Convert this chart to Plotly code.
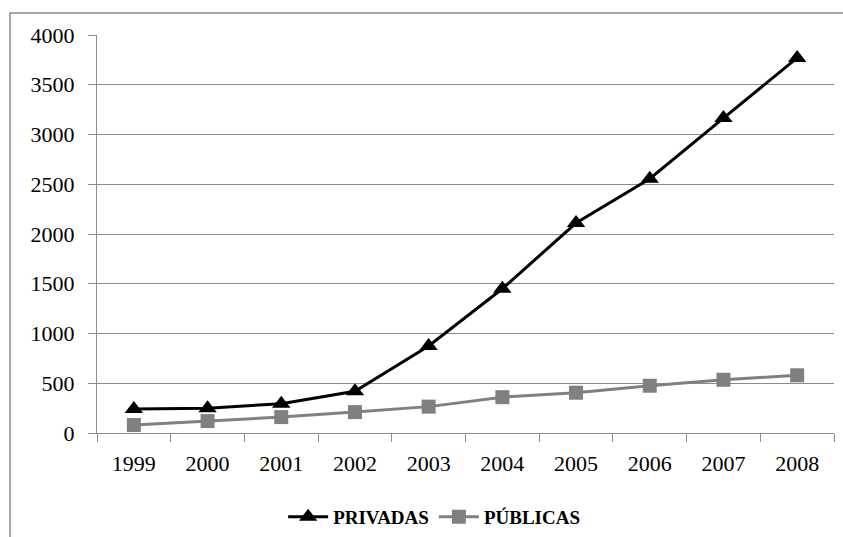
import plotly.graph_objects as go

years = ["1999", "2000", "2001", "2002", "2003", "2004", "2005", "2006", "2007", "2008"]
privadas = [240, 250, 295, 420, 875, 1450, 2110, 2555, 3165, 3770]
publicas = [80, 120, 160, 210, 265, 360, 405, 475, 535, 580]

serif = "Liberation Serif, Times New Roman, serif"

fig = go.Figure()
fig.add_trace(go.Scatter(
    x=years, y=privadas, name="<b>PRIVADAS</b>", mode="lines+markers",
    line=dict(color="#000000", width=3),
    marker=dict(symbol="triangle-up", size=16, color="#000000"),
))
fig.add_trace(go.Scatter(
    x=years, y=publicas, name="<b>PÚBLICAS</b>", mode="lines+markers",
    line=dict(color="#808080", width=3),
    marker=dict(symbol="square", size=14, color="#808080"),
))

axis_grey = "#8c8c8c"
fig.update_layout(
    width=843, height=537,
    margin=dict(l=97, r=9, t=35, b=104, autoexpand=False),
    paper_bgcolor="white", plot_bgcolor="white",
    font=dict(family=serif, color="#000000", size=22),
    showlegend=True,
    legend=dict(orientation="h", x=0.515, xref="container", xanchor="center",
                y=20 / 537, yref="container", yanchor="middle",
                font=dict(size=19, family=serif),
                itemwidth=40, tracegroupgap=0),
    xaxis=dict(
        type="category", range=[-0.5, 9.5],
        showline=True, linecolor=axis_grey, linewidth=1,
        ticks="outside", tickson="boundaries", ticklen=8, tickcolor=axis_grey,
        ticklabelstandoff=11,
        showgrid=False, zeroline=False, automargin=False,
    ),
    yaxis=dict(
        range=[0, 4000], dtick=500,
        showline=True, linecolor=axis_grey, linewidth=1,
        ticks="outside", ticklen=8, tickcolor=axis_grey,
        ticklabelstandoff=9,
        showgrid=True, gridcolor=axis_grey, gridwidth=1,
        zeroline=False, automargin=False,
    ),
    shapes=[dict(
        type="rect", xref="paper", yref="paper",
        x0=(10 - 97) / 737, x1=1.2, y0=-0.5, y1=1 + (35 - 13) / 398,
        line=dict(color="#8a8a8a", width=1.5), layer="below",
    )],
)

fig.write_html("out.html")
